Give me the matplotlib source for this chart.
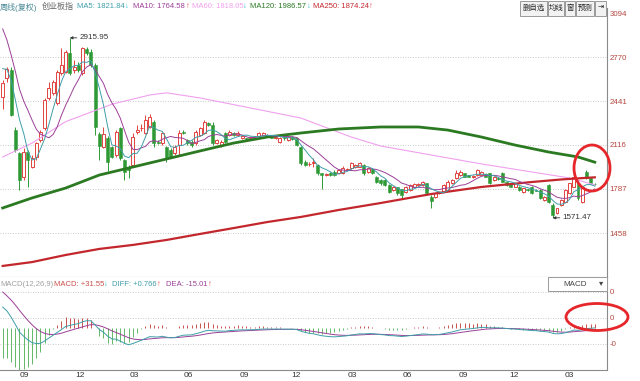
import numpy as np
import pandas as pd
import matplotlib
matplotlib.use('Agg')
import matplotlib.pyplot as plt
from matplotlib.patches import Ellipse, Rectangle

plt.rcParams['font.family'] = ['Liberation Sans', 'Noto Sans CJK SC', 'DejaVu Sans']

# weekly candles, 创业板指 周线(复权)
opens = [2476, 2613, 2676, 2227, 2053, 1879, 2066, 1953, 2028, 2153,
         2240, 2464, 2501, 2427, 2651, 2663, 2800, 2676, 2713, 2651,
         2830, 2813, 2713, 2200, 2100, 2165, 2103, 2041, 2240, 2003,
         1954, 1966, 2215, 2240, 2203, 2252, 2290, 2140, 2128, 2103,
         2078, 2053, 2115, 2215, 2153, 2140, 2128, 2190, 2203, 2280,
         2265, 2130, 2115, 2203, 2190, 2203, 2190, 2165, 2165, 2168,
         2172, 2180, 2190, 2190, 2180, 2165, 2140, 2190, 2153, 2175,
         2165, 2103, 1991, 1970, 1978, 1966, 1904, 1895, 1909, 1916,
         1904, 1904, 1929, 1941, 1950, 1954, 1966, 1916, 1934, 1879,
         1854, 1854, 1817, 1779, 1799, 1784, 1767, 1779, 1804, 1814,
         1817, 1829, 1730, 1730, 1754, 1767, 1779, 1829, 1866, 1891,
         1904, 1891, 1879, 1891, 1890, 1900, 1904, 1854, 1870, 1904,
         1842, 1829, 1804, 1804, 1767, 1782, 1804, 1779, 1779, 1705,
         1817, 1667, 1605, 1667, 1692, 1754, 1804, 1829, 1692, 1916,
         1867, 1825]
highs = [2601, 2700, 2700, 2247, 2066, 2091, 2078, 2041, 2140, 2227,
         2464, 2588, 2601, 2676, 2838, 2825, 2915.95, 2750, 2738, 2850,
         2850, 2830, 2725, 2215, 2250, 2180, 2110, 2227, 2252, 2010,
         1966, 2203, 2265, 2275, 2340, 2350, 2302, 2150, 2210, 2110,
         2090, 2115, 2227, 2225, 2160, 2150, 2227, 2250, 2302, 2290,
         2290, 2160, 2150, 2210, 2225, 2210, 2220, 2190, 2170, 2180,
         2185, 2215, 2215, 2200, 2190, 2185, 2175, 2200, 2180, 2185,
         2175, 2110, 2000, 1985, 2016, 1975, 1910, 1905, 1915, 1925,
         1935, 1960, 1945, 1991, 1975, 1985, 1975, 1950, 1940, 1885,
         1860, 1860, 1825, 1810, 1805, 1790, 1810, 1825, 1830, 1830,
         1850, 1835, 1740, 1760, 1772, 1825, 1854, 1860, 1929, 1929,
         1910, 1895, 1890, 1935, 1920, 1905, 1910, 1885, 1875, 1916,
         1850, 1835, 1835, 1810, 1795, 1790, 1810, 1785, 1785, 1735,
         1825, 1680, 1648, 1710, 1785, 1835, 1916, 1835, 1810, 1925,
         1872, 1830]
lows = [2382, 2588, 2332, 2066, 1779, 1854, 1804, 1941, 2003, 2140,
        2227, 2452, 2489, 2414, 2638, 2651, 2638, 2651, 2663, 2638,
        2788, 2700, 2190, 2003, 2090, 1920, 2016, 2028, 2003, 1854,
        1866, 1954, 2200, 2220, 2195, 2240, 2103, 2120, 2115, 1990,
        2020, 2040, 2041, 2195, 2115, 2100, 2115, 2180, 2195, 2255,
        2115, 2120, 2100, 2130, 2180, 2185, 2180, 2160, 2155, 2160,
        2165, 2175, 2185, 2175, 2165, 2160, 2130, 2155, 2145, 2155,
        2110, 1966, 1955, 1960, 1954, 1895, 1784, 1885, 1885, 1885,
        1900, 1900, 1925, 1935, 1945, 1950, 1895, 1910, 1900, 1835,
        1820, 1810, 1760, 1770, 1745, 1717, 1760, 1775, 1800, 1810,
        1812, 1745, 1642, 1720, 1748, 1760, 1775, 1825, 1860, 1885,
        1875, 1875, 1870, 1885, 1885, 1875, 1825, 1850, 1855, 1838,
        1812, 1800, 1800, 1775, 1760, 1775, 1750, 1770, 1712, 1700,
        1680, 1571.47, 1600, 1660, 1688, 1750, 1800, 1705, 1680, 1862,
        1825, 1815]
closes = [2576, 2680, 2339, 2078, 1854, 2066, 2003, 2016, 2128, 2215,
          2452, 2539, 2588, 2663, 2713, 2813, 2651, 2700, 2676, 2838,
          2800, 2713, 2252, 2110, 2200, 1990, 2028, 2215, 2016, 1916,
          1929, 2178, 2228, 2245, 2302, 2327, 2128, 2128, 2203, 2028,
          2028, 2103, 2203, 2203, 2128, 2115, 2215, 2240, 2290, 2265,
          2128, 2150, 2140, 2140, 2215, 2190, 2205, 2180, 2160, 2172,
          2178, 2203, 2203, 2180, 2170, 2178, 2165, 2165, 2172, 2160,
          2115, 1978, 1966, 1975, 1991, 1904, 1891, 1900, 1891, 1891,
          1929, 1941, 1936, 1978, 1966, 1978, 1904, 1941, 1909, 1842,
          1829, 1817, 1767, 1804, 1754, 1742, 1804, 1817, 1824, 1824,
          1842, 1754, 1700, 1754, 1767, 1817, 1841, 1854, 1904, 1916,
          1879, 1879, 1880, 1929, 1916, 1880, 1829, 1879, 1860, 1842,
          1817, 1804, 1829, 1779, 1792, 1780, 1754, 1775, 1717, 1730,
          1692, 1593, 1642, 1705, 1779, 1829, 1879, 1717, 1804, 1867,
          1830, 1822]
# closes of the weeks just before the first candle (feed MA5 / MA10)
pre_close = [3500, 3450, 3300, 3200, 2950, 2700, 2750, 2800, 2600]
# EMA12, EMA26, DEA of the week before the first candle
macd_seed = [3000, 2760, 358]

# long moving averages (week index, value)
ma60_wk = [0, 7, 15, 26, 35, 39, 47, 59, 71, 83, 90, 102, 114, 126, 135, 141]
ma60_val = [2026, 2130, 2290, 2420, 2489, 2505, 2467, 2392, 2317, 2175, 2108, 2041, 1974, 1914, 1869, 1818]
ma120_wk = [0, 7, 15, 23, 31, 39, 47, 55, 63, 71, 80, 90, 99, 106, 114, 122, 130, 137, 141]
ma120_val = [1645, 1720, 1794, 1891, 1951, 2011, 2071, 2130, 2175, 2205, 2235, 2250, 2250, 2227, 2175, 2115, 2063, 2026, 1987]
ma250_wk = [0, 7, 15, 23, 31, 39, 47, 55, 63, 71, 80, 90, 102, 114, 126, 133, 141]
ma250_val = [1212, 1241, 1294, 1339, 1369, 1406, 1451, 1495, 1540, 1578, 1630, 1682, 1749, 1802, 1839, 1858, 1874]

month_pos = [5.2, 18.4, 31.3, 44.1, 57.5, 69.8, 83.2, 96.3, 109.6, 121.7, 135]
month_lab = ['09', '12', '03', '06', '09', '12', '03', '06', '09', '12', '03']
price_ticks = [3094, 2770, 2441, 2116, 1787, 1458]
macd_ticks = [324, 90, -144]
macd_lab = ['0', '0', '-0']

RED = '#e0443f'
GREEN = '#2f9a35'
C_MA5 = '#3e9ea8'
C_MA10 = '#9c3f98'
C_MA60 = '#f0a0ee'
C_MA120 = '#2b7a22'
C_MA250 = '#c3272d'
CYAN = '#2bb8d6'
FS = 5.5

o = np.array(opens, float)
h = np.array(highs, float)
l = np.array(lows, float)
c = np.array(closes, float)
idx = np.arange(len(c))

full = pd.Series(pre_close + closes, dtype=float)
ma5 = full.rolling(5).mean().to_numpy()[len(pre_close):]
ma10 = full.rolling(10).mean().to_numpy()[len(pre_close):]

e12, e26, dea_v = macd_seed
diff, dea = [], []
for px in closes:
    e12 += (px - e12) * 2 / 13
    e26 += (px - e26) * 2 / 27
    d = e12 - e26
    dea_v += (d - dea_v) * 2 / 10
    diff.append(d)
    dea.append(dea_v)
diff = np.array(diff)
dea = np.array(dea)
hist = 2 * (diff - dea)

W, H = 640.0, 381.0


def box(x0, y0, x1, y1):
    return [x0 / W, 1 - y1 / H, (x1 - x0) / W, (y1 - y0) / H]


fig = plt.figure(figsize=(6.4, 3.81), dpi=100)
ax = fig.add_axes(box(0, 8, 607, 277))
axm = fig.add_axes(box(0, 277, 607, 370), sharex=ax)

# candles
up = c >= o
ax.vlines(idx[up], l[up], h[up], color=RED, lw=0.7, zorder=2)
ax.vlines(idx[~up], l[~up], h[~up], color=GREEN, lw=0.7, zorder=2)
lo = np.minimum(o, c)
bh = np.maximum(np.abs(c - o), 5)
ax.bar(idx[up], bh[up], bottom=lo[up], width=0.7, facecolor='white', edgecolor=RED, lw=0.7, zorder=3)
ax.bar(idx[~up], bh[~up], bottom=lo[~up], width=0.7, color=GREEN, edgecolor=GREEN, lw=0.4, zorder=3)

ax.plot(ma60_wk, ma60_val, color=C_MA60, lw=0.8, zorder=4)
ax.plot(ma120_wk, ma120_val, color=C_MA120, lw=2.0, zorder=4)
ax.plot(ma250_wk, ma250_val, color=C_MA250, lw=1.6, zorder=4)
ax.plot(idx, ma10, color=C_MA10, lw=0.7, zorder=5)
ax.plot(idx, ma5, color=C_MA5, lw=0.7, zorder=5)

imax = int(np.argmax(h))
imin = int(np.argmin(l))
for i, v in [(imax, h[imax]), (imin, l[imin])]:
    ax.annotate('%.2f' % v, xy=(i, v), xytext=(7, 0), textcoords='offset points',
                va='center', ha='left', fontsize=FS + 0.3, color='#333333',
                arrowprops=dict(arrowstyle='-|>', color='#333333', lw=0.6,
                                mutation_scale=4, shrinkA=0, shrinkB=0), zorder=6)

ax.set_xlim(-0.64, 143.9)
ax.set_ylim(1129.4, 3138.8)
for t in price_ticks[1:]:
    ax.axhline(t, color='#b8b8b8', lw=0.6, ls=(0, (1, 2)), zorder=0)
ax.yaxis.tick_right()
ax.set_yticks(price_ticks)
ax.set_yticklabels([str(t) for t in price_ticks])
ax.tick_params(axis='y', length=0, pad=2, labelsize=FS + 0.2, labelcolor='#b5473f')
ax.tick_params(axis='x', length=0, labelbottom=False)
for s in ['left', 'top']:
    ax.spines[s].set_visible(False)
for s in ['right', 'bottom']:
    ax.spines[s].set_color('#8a8a8a')
    ax.spines[s].set_linewidth(0.8)

# MACD panel
axm.vlines(idx[hist >= 0], 0, hist[hist >= 0], color='#c9504c', lw=0.7)
axm.vlines(idx[hist < 0], 0, hist[hist < 0], color='#62b865', lw=0.7)
axm.plot(idx, dea, color=C_MA10, lw=0.7)
axm.plot(idx, diff, color=C_MA5, lw=0.7)
axm.set_ylim(-378, 459)
for t in macd_ticks:
    axm.axhline(t, color='#b8b8b8', lw=0.6, ls=(0, (1, 2)), zorder=0)
axm.yaxis.tick_right()
axm.set_yticks(macd_ticks)
axm.set_yticklabels(macd_lab)
axm.tick_params(axis='y', length=0, pad=2, labelsize=FS + 0.2, labelcolor='#b5473f')
axm.set_xticks(month_pos)
axm.set_xticklabels(month_lab)
axm.tick_params(axis='x', length=0, pad=1.5, labelsize=FS + 0.5, labelcolor='#333333')
for s in ['left', 'top']:
    axm.spines[s].set_visible(False)
for s in ['right', 'bottom']:
    axm.spines[s].set_color('#8a8a8a')
    axm.spines[s].set_linewidth(0.8)

# overlay: headers, buttons, circles
ov = fig.add_axes([0, 0, 1, 1], zorder=10)
ov.set_xlim(0, W)
ov.set_ylim(H, 0)
ov.axis('off')
ov.patch.set_alpha(0)

ov.text(0, 7, '周线(复权)', color='#4d8c99', fontsize=5.8, va='center', ha='left')
ov.text(42, 7, '创业板指', color='#666666', fontsize=5.8, va='center', ha='left')
head = [(77, 'MA5: 1821.84', C_MA5), (125, '↓', CYAN),
        (133, 'MA10: 1764.58', C_MA10), (186, '↑', RED),
        (192, 'MA60: 1818.05', C_MA60), (243, '↓', CYAN),
        (250, 'MA120: 1986.57', C_MA120), (307, '↓', CYAN),
        (313, 'MA250: 1874.24', C_MA250), (369, '↑', RED)]
for x, s, col in head:
    ov.text(x, 7, s, color=col, fontsize=FS, va='center', ha='left')

mhead = [(0, 'MACD(12,26,9)', '#a0a0a0'), (54, 'MACD: +31.55', '#c9504c'), (104, '↓', CYAN),
         (112, 'DIFF: +0.766', C_MA5), (157, '↑', RED),
         (166, 'DEA: -15.01', C_MA10), (208, '↑', RED)]
for x, s, col in mhead:
    ov.text(x, 284, s, color=col, fontsize=FS, va='center', ha='left')

buttons = [(520, 547, '删自选'), (548, 564, '均线'), (565, 575, '窗'), (576, 594, '预测'), (595, 606, '⇥')]
for x0, x1, s in buttons:
    ov.add_patch(Rectangle((x0, 0.5), x1 - x0, 15, facecolor='#f2f2f2', edgecolor='#9a9a9a', lw=0.7))
    ov.text((x0 + x1) / 2, 8, s, fontsize=5.3, ha='center', va='center', color='#222222')

ov.add_patch(Rectangle((548, 277), 59, 14, facecolor='white', edgecolor='#9a9a9a', lw=0.7))
ov.text(575, 284, 'MACD', fontsize=FS + 0.3, ha='center', va='center', color='#444444')
ov.text(601, 284, '▾', fontsize=6, ha='center', va='center', color='#444444')

ov.add_patch(Ellipse((592, 168), 36, 46, fill=False, edgecolor='#e5262a', lw=2))
ov.add_patch(Ellipse((597, 317), 62, 27, fill=False, edgecolor='#e5262a', lw=2))

fig.savefig('out.png', dpi=100)
